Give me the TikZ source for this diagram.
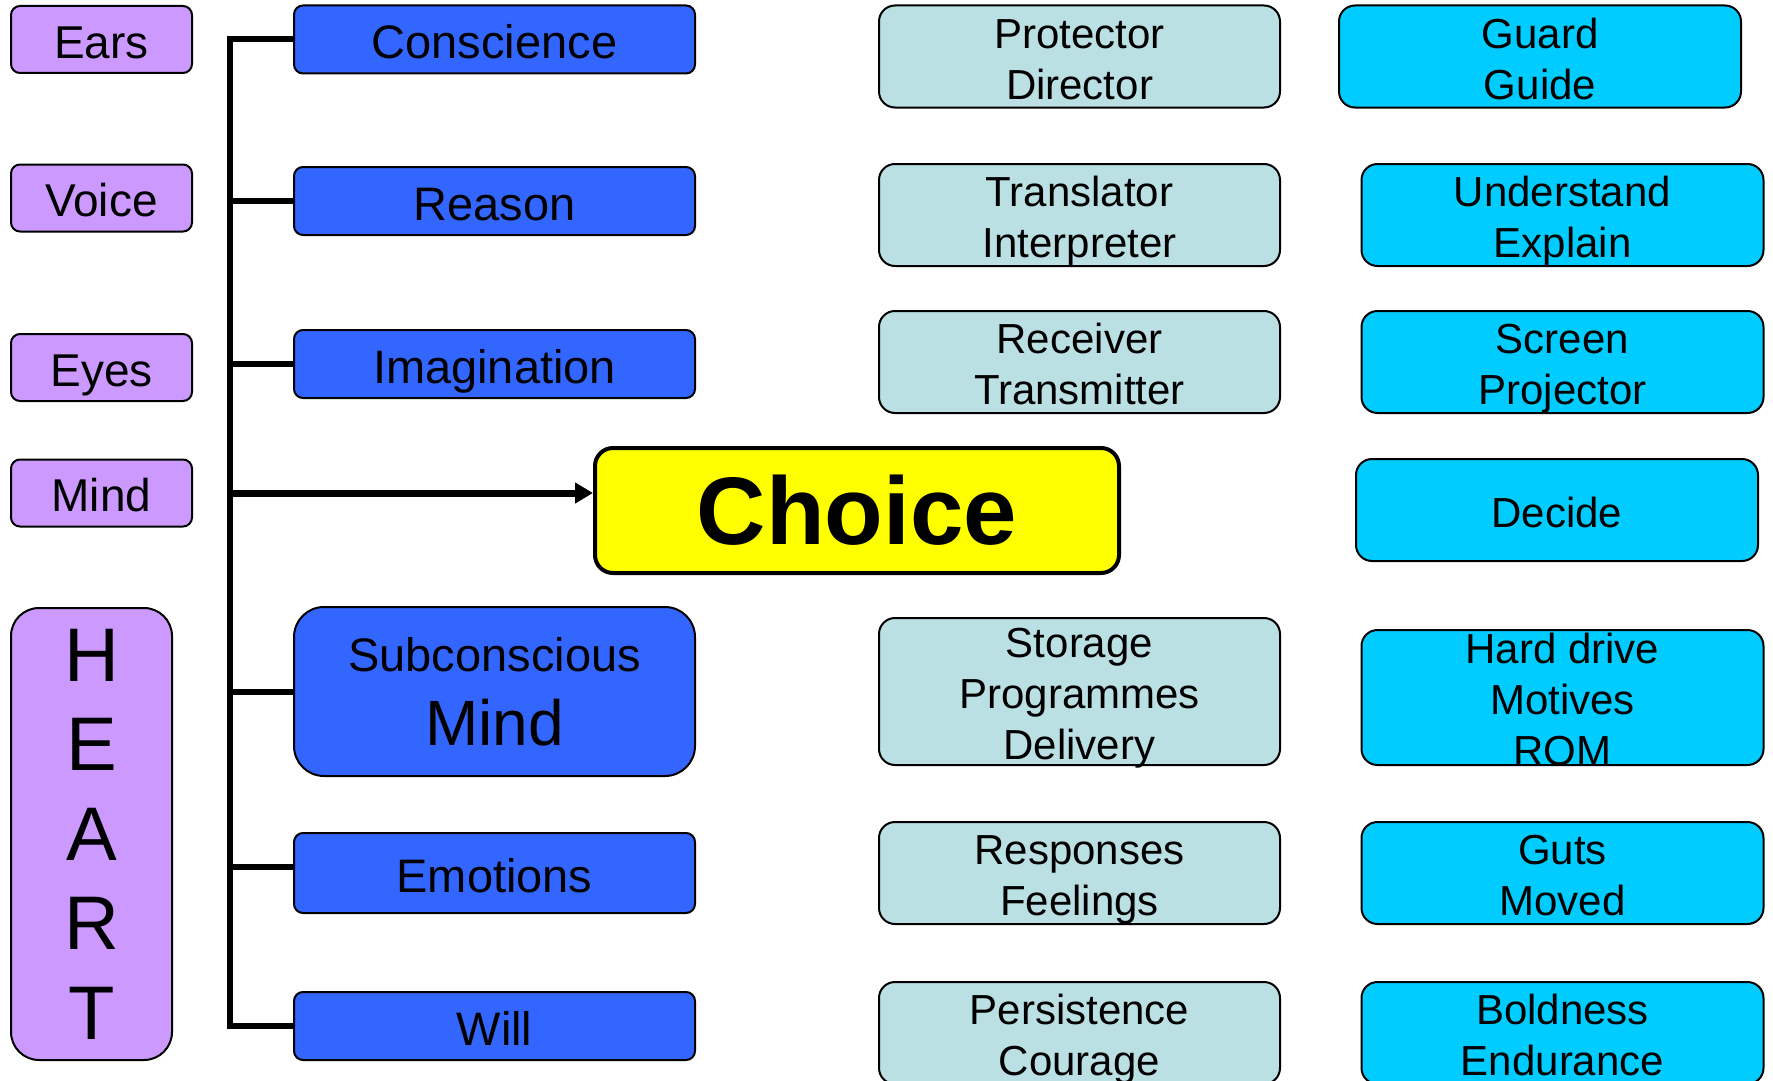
\documentclass[tikz,border=0pt]{standalone}
\usepackage{fontspec}
\setmainfont{Liberation Sans}
\usetikzlibrary{arrows.meta}
\definecolor{purp}{HTML}{CC99FF}
\definecolor{blueb}{HTML}{3366FF}
\definecolor{lblue}{HTML}{BBE0E3}
\definecolor{cyanb}{HTML}{00CCFF}
\definecolor{yell}{HTML}{FFFF00}
\newcommand{\fsz}[2]{\fontsize{#1}{#2}\selectfont}
\newcommand{\tS}{\rule{0pt}{1.05em}}
\newcommand{\bS}{\rule[-0.235em]{0pt}{0.235em}}
\newcommand{\T}[1]{\tS #1\bS}
\tikzset{
  box/.style={draw=black, line width=2pt, rounded corners=9pt, inner xsep=0pt, inner ysep=-15pt, align=center},
  pbox/.style={box, fill=purp, minimum width=181pt, minimum height=67pt, font=\fsz{46}{51}},
  bbox/.style={box, fill=blueb, minimum width=401pt, minimum height=68pt, font=\fsz{47}{51}},
  lbox/.style={box, fill=lblue, minimum width=401pt, minimum height=102pt, rounded corners=16pt, font=\fsz{42}{51}},
  cbox/.style={box, fill=cyanb, minimum width=402pt, minimum height=102pt, rounded corners=16pt, font=\fsz{42}{51}},
  trunk/.style={line width=6pt, draw=black}
}
\begin{document}
\begin{tikzpicture}[x=1pt,y=-1pt]
\useasboundingbox (0,0) rectangle (1773,1081);
\clip (0,0) rectangle (1773,1081);
% left purple
\node[pbox] (ears) at (101.5,39.5) {\T{Ears}};
\node[pbox] (voice) at (101.5,198) {\T{Voice}};
\node[pbox] (eyes) at (101.5,367.5) {\T{Eyes}};
\node[pbox] (mindl) at (101.5,493) {\T{Mind}};
\node[box, fill=purp, minimum width=161pt, minimum height=452pt, rounded corners=28pt, font=\fsz{76}{89.5}] (heart) at (91.5,834) {H\\E\\A\\R\\T};
% blue
\node[bbox] (cons) at (494.5,39.5) {\T{Conscience}};
\node[bbox] (reas) at (494.5,201) {\T{Reason}};
\node[bbox] (imag) at (494.5,364) {\T{Imagination}};
\node[bbox, minimum height=169pt, rounded corners=30pt] (subc) at (494.5,691.5) {\tS Subconscious\\[23pt]{\fsz{64}{71}Mind\bS}};
\node[bbox, minimum height=80pt] (emo) at (494.5,873) {\T{Emotions}};
\node[bbox] (will) at (494.5,1026) {\T{Will}};
% choice
\node[box, fill=yell, line width=4pt, rounded corners=18pt, minimum width=524pt, minimum height=125pt, font=\bfseries\fsz{96}{100}] (choice) at (857,510.5) {Choice};
% light blue
\node[lbox] (prot) at (1079.5,56.5) {\T{Protector\\Director}};
\node[lbox] (trans) at (1079.5,215) {\T{Translator\\Interpreter}};
\node[lbox] (recv) at (1079.5,362) {\T{Receiver\\Transmitter}};
\node[lbox, minimum height=147pt] (stor) at (1079.5,691.5) {\T{Storage\\Programmes\\Delivery}};
\node[lbox] (resp) at (1079.5,873) {\T{Responses\\Feelings}};
\node[lbox] (pers) at (1079.5,1033) {\T{Persistence\\Courage}};
% cyan
\node[cbox] (guard) at (1540,56.5) {\T{Guard\\Guide}};
\node[cbox] (under) at (1562.5,215) {\T{Understand\\Explain}};
\node[cbox] (screen) at (1562.5,362) {\T{Screen\\Projector}};
\node[cbox] (decide) at (1557,510) {\T{Decide}};
\node[cbox, minimum height=135pt] (hard) at (1562.5,697.5) {\T{Hard drive\\Motives\\ROM}};
\node[cbox] (guts) at (1562.5,873) {\T{Guts\\Moved}};
\node[cbox] (bold) at (1562.5,1033) {\T{Boldness\\Endurance}};
% trunk
\coordinate (tx) at (230,0);
\draw[trunk] (cons.west) -- (cons.west -| tx) -- (will.west -| tx) -- (will.west);
\draw[trunk] (reas.west) -- (reas.west -| tx);
\draw[trunk] (imag.west) -- (imag.west -| tx);
\draw[trunk] (subc.west) -- (subc.west -| tx);
\draw[trunk] ([yshift=6pt]emo.west) -- ([yshift=6pt]emo.west -| tx);
\draw[trunk, line width=7pt, -{Triangle[length=18pt,width=20pt]}] (mindl.east -| tx) -- (mindl.east -| choice.west);
\end{tikzpicture}
\end{document}
